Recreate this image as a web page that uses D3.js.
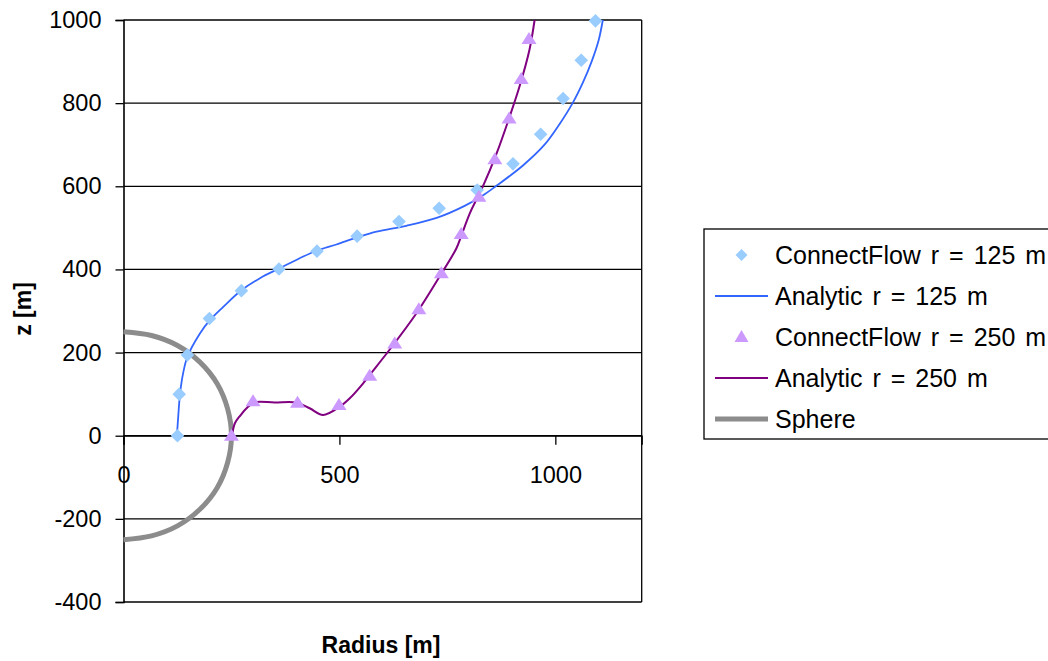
<!DOCTYPE html>
<html>
<head>
<meta charset="utf-8">
<script src="https://cdn.jsdelivr.net/npm/d3@7"></script>
<style>
  body { margin: 0; background: #fff; }
  svg { display: block; }
  text { font-family: "Liberation Sans", Arial, sans-serif; fill: #000; }
</style>
</head>
<body>
<svg id="chart" width="1048" height="661"></svg>
<script>
// ---- data (radius r [m], z [m]) ----
const cf125 = [
  [125, 0], [129, 100], [148, 194], [199, 282], [273, 349], [360, 401],
  [448, 444], [541, 480], [638, 515], [731, 547], [819, 591], [902, 654],
  [966, 725], [1018, 811], [1060, 903], [1093, 998]
];
const analytic125 = [
  [124, 5], [127, 50], [131, 102], [138, 150], [148, 190], [177, 246],
  [200, 278], [231, 310], [273, 350], [316, 379], [362, 403], [408, 427],
  [447, 445], [493, 460], [541, 477], [586, 491], [655, 505], [725, 524],
  [790, 553], [832, 578], [862, 600], [925, 650], [975, 700], [1010, 750],
  [1040, 800], [1064, 850], [1084, 900], [1100, 950], [1110, 1000]
];
const cf250 = [
  [250, 0], [300, 83], [403, 79], [499, 74], [570, 144], [628, 222],
  [684, 304], [736, 391], [782, 485], [823, 575], [860, 665], [893, 763],
  [921, 858], [939, 954]
];
const analytic250 = [
  [252, 5], [258, 30], [270, 48], [289, 70], [302, 80], [350, 80], [400, 80],
  [431, 66], [462, 50], [501, 70], [524, 90], [555, 126],
  [570, 146], [617, 208], [678, 294], [732, 383], [771, 451], [783, 483],
  [802, 535], [832, 599], [864, 679], [894, 767], [917, 840], [940, 928],
  [952, 1000]
];
const sphere = [
  [0, 250], [65, 241], [125, 217], [177, 177], [217, 125], [241, 65],
  [250, 0], [241, -65], [217, -125], [177, -177], [125, -217], [65, -241],
  [0, -250]
];
const xTicks = [0, 500, 1000];
const yTicks = [-400, -200, 0, 200, 400, 600, 800, 1000];
const legendLabels = [
  "ConnectFlow r = 125 m", "Analytic r = 125 m",
  "ConnectFlow r = 250 m", "Analytic r = 250 m", "Sphere"
];

// ---- drawing ----
const svg = d3.select("#chart");
const x = d3.scaleLinear().domain([0, 1200]).range([123.5, 641.7]);
const y = d3.scaleLinear().domain([-400, 1000]).range([602, 20]);

const c125 = "#99CCFF", l125 = "#3366FF", c250 = "#CC99FF", l250 = "#800080", cs = "#8C8C8C";
const fmt = d => String(d);

// gridlines
svg.append("g").selectAll("line").data(yTicks).join("line")
  .attr("x1", x(0)).attr("x2", x(1200))
  .attr("y1", d => y(d)).attr("y2", d => y(d))
  .attr("stroke", "#000").attr("stroke-width", 1.3);
// right border
svg.append("line").attr("x1", x(1200)).attr("x2", x(1200)).attr("y1", y(1000)).attr("y2", y(-400))
  .attr("stroke", "#000").attr("stroke-width", 1.3);

// y axis
const yAxis = svg.append("g").attr("transform", `translate(${x(0)},0)`)
  .call(d3.axisLeft(y).tickValues(yTicks).tickSize(8).tickPadding(14).tickFormat(fmt));
// x axis at z = 0
const xAxis = svg.append("g").attr("transform", `translate(0,${y(0)})`)
  .call(d3.axisBottom(x).tickValues(xTicks).tickSize(9).tickPadding(22).tickFormat(fmt));
[yAxis, xAxis].forEach(a => {
  a.select(".domain").attr("stroke", "#000").attr("stroke-width", 1.6);
  a.selectAll(".tick line").attr("stroke", "#000").attr("stroke-width", 1.3);
  a.selectAll(".tick text").attr("font-size", "23.5px").attr("font-family", "Liberation Sans, Arial, sans-serif").attr("fill", "#000");
});
xAxis.select(".domain").attr("stroke-width", 1.3);

// series
const round = d3.line().x(d => x(d[0])).y(d => y(d[1])).curve(d3.curveCatmullRom.alpha(0.5));

svg.append("path").datum(sphere).attr("d", round).attr("fill", "none")
  .attr("stroke", cs).attr("stroke-width", 5);
svg.append("path").datum(analytic125).attr("d", round).attr("fill", "none")
  .attr("stroke", l125).attr("stroke-width", 1.8);
svg.append("path").datum(analytic250).attr("d", round).attr("fill", "none")
  .attr("stroke", l250).attr("stroke-width", 2);

const diamondPath = "M0,-6.8L6.8,0L0,6.8L-6.8,0Z";
const triPath = "M0,-7L7.5,5L-7.5,5Z";

svg.append("g").selectAll("path").data(cf125).join("path")
  .attr("d", diamondPath)
  .attr("transform", d => `translate(${x(d[0])},${y(d[1])})`)
  .attr("fill", c125);
svg.append("g").selectAll("path").data(cf250).join("path")
  .attr("d", triPath)
  .attr("transform", d => `translate(${x(d[0])},${y(d[1])})`)
  .attr("fill", c250);

// axis titles
svg.append("text").attr("x", 381).attr("y", 653).attr("text-anchor", "middle")
  .attr("font-size", "23px").attr("font-weight", "bold").text("Radius [m]");
svg.append("text").attr("transform", "translate(31,309) rotate(-90)").attr("text-anchor", "middle")
  .attr("font-size", "23px").attr("font-weight", "bold").text("z [m]");

// legend
const lg = svg.append("g");
lg.append("rect").attr("x", 704).attr("y", 229).attr("width", 360).attr("height", 210)
  .attr("fill", "#fff").attr("stroke", "#000").attr("stroke-width", 1.3);
const rowY = [255, 296, 337, 378, 419];
legendLabels.forEach((lab, i) => {
  const yy = rowY[i];
  if (i === 0) {
    lg.append("path").attr("d", "M0,-6L6,0L0,6L-6,0Z").attr("transform", `translate(741.5,${yy})`).attr("fill", c125);
  } else if (i === 2) {
    lg.append("path").attr("d", "M0,-7L7,5L-7,5Z").attr("transform", `translate(741.5,${yy})`).attr("fill", c250);
  } else {
    const col = i === 1 ? l125 : i === 3 ? l250 : cs;
    const w = i === 1 ? 1.8 : i === 3 ? 2 : 5;
    lg.append("line").attr("x1", 715).attr("x2", 768).attr("y1", yy).attr("y2", yy)
      .attr("stroke", col).attr("stroke-width", w);
  }
  lg.append("text").attr("x", 775).attr("y", yy).attr("dy", "0.36em")
    .attr("font-size", "25px").attr("word-spacing", "3px").text(lab);
});
</script>
</body>
</html>
